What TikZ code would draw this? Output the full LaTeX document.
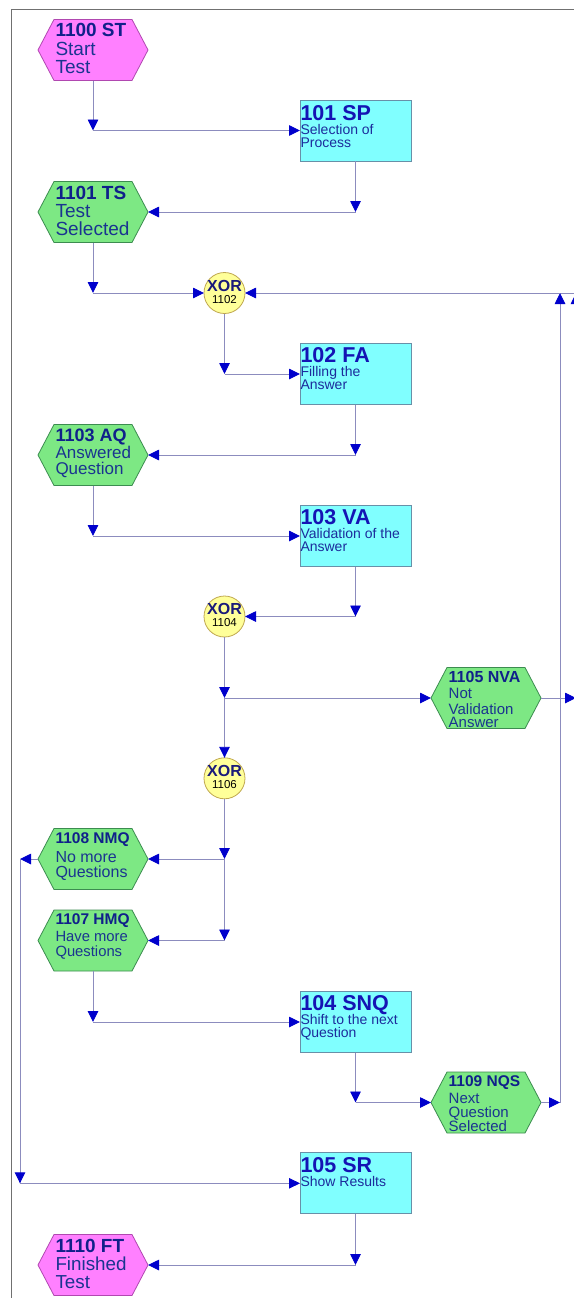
\documentclass[tikz,border=0pt]{standalone}
\usepackage{fontspec}
\setmainfont{Liberation Sans}
\usetikzlibrary{arrows.meta,backgrounds}

\definecolor{magf}{HTML}{FF80FF}
\definecolor{magd}{HTML}{B048B0}
\definecolor{grnf}{HTML}{7DE884}
\definecolor{grnd}{HTML}{3C8C50}
\definecolor{cyaf}{HTML}{80FFFF}
\definecolor{cyad}{HTML}{6890A8}
\definecolor{yelf}{HTML}{FFFF99}
\definecolor{yeld}{HTML}{C0A850}
\definecolor{hext}{HTML}{10208A}
\definecolor{hexb}{HTML}{1A3490}
\definecolor{boxt}{HTML}{1414B4}
\definecolor{boxb}{HTML}{1C2C9C}
\definecolor{xort}{HTML}{1A1A7A}
\definecolor{connc}{HTML}{8C8CBE}
\definecolor{arrc}{HTML}{0000CC}
\definecolor{framec}{HTML}{707070}

\newcommand\HT[1]{\fontsize{#1}{#1}\selectfont\bfseries\color{hext}}
\newcommand\HB[1]{\fontsize{#1}{#1}\selectfont\color{hexb}}
\newcommand\BT{\fontsize{21.5}{21.5}\selectfont\bfseries\color{boxt}}
\newcommand\BB{\fontsize{14}{14}\selectfont\color{boxb}}
\newcommand\blk[1]{\vtop{\lineskiplimit=-100pt\lineskip=0pt #1}}
\newcommand\Ln[2]{\baselineskip=#1pt\relax\hbox{#2}}

\tikzset{
  conn/.style={draw=connc, line width=0.9pt, -{Triangle[length=11pt,width=10.5pt,color=arrc]}},
  seg/.style={draw=connc, line width=0.9pt},
  hexev/.style={minimum width=110pt, minimum height=61pt, inner sep=0pt, outer sep=0pt},
  maghex/.style={fill=magf, draw=magd, line width=0.8pt},
  grnhex/.style={fill=grnf, draw=grnd, line width=0.8pt},
  func/.style={draw=cyad, fill=cyaf, line width=0.8pt, minimum width=111pt, minimum height=61pt, inner sep=0pt, outer sep=0pt},
  xorc/.style={circle, draw=yeld, fill=yelf, minimum size=41pt, inner sep=0pt, outer sep=0pt, line width=0.8pt},
  txt/.style={anchor=base west, inner sep=0pt, outer sep=0pt},
  xtxt/.style={anchor=base, inner sep=0pt, outer sep=0pt},
  framel/.style={draw=framec, line width=1pt},
}

\begin{document}
\begin{tikzpicture}[x=1pt, y=-1pt]
\useasboundingbox (0,0) rectangle (573,1298);

% event hexagon frames (shapes drawn on background)
\node[hexev] (ST)  at (93,50) {};
\node[hexev] (TS)  at (93,212) {};
\node[hexev] (AQ)  at (93,455) {};
\node[hexev] (NVA) at (486,698) {};
\node[hexev] (NMQ) at (93,859) {};
\node[hexev] (HMQ) at (93,940.5) {};
\node[hexev] (NQS) at (486,1102.5) {};
\node[hexev] (FT)  at (93,1265) {};

\begin{scope}[on background layer]
\fill[white] (0,0) rectangle (573,1298);
\draw[framel] (11,1300) -- (11,9.5) -- (575,9.5);
\foreach \n/\s in {ST/maghex, TS/grnhex, AQ/grnhex, NVA/grnhex, NMQ/grnhex, HMQ/grnhex, NQS/grnhex, FT/maghex}
  \draw[\s] (\n.west) -- ([xshift=16pt]\n.north west) -- ([xshift=-16pt]\n.north east)
     -- (\n.east) -- ([xshift=-16pt]\n.south east) -- ([xshift=16pt]\n.south west) -- cycle;
\end{scope}

% functions
\node[func] (SP)  at (355.5,130.5) {};
\node[func] (FA)  at (355.5,374) {};
\node[func] (VA)  at (355.5,536) {};
\node[func] (SNQ) at (355.5,1022) {};
\node[func] (SR)  at (355.5,1183.3) {};

% XOR connectors
\node[xorc] (X1) at (224.5,293) {};
\node[xorc] (X2) at (224.5,616.5) {};
\node[xorc] (X3) at (224.5,778.3) {};

% ---- texts ----
\node[txt] (tST) at (55.5,37) {\blk{\hbox{\HT{19}1100 ST}\Ln{19}{\HB{19}Start}\Ln{17.5}{\HB{19}Test}}};
\node[txt] (tTS) at (55.5,199) {\blk{\hbox{\HT{19}1101 TS}\Ln{18}{\HB{19}Test}\Ln{18.5}{\HB{19}Selected}}};
\node[txt] (tAQ) at (55.5,441.7) {\blk{\hbox{\HT{18}1103 AQ}\Ln{16.6}{\HB{17}Answered}\Ln{16}{\HB{17}Question}}};
\node[txt] (tNVA) at (448.7,682.3) {\blk{\hbox{\HT{16}1105 NVA}\Ln{16}{\HB{15}Not}\Ln{15.7}{\HB{15}Validation}\Ln{13.3}{\HB{15}Answer}}};
\node[txt] (tNMQ) at (55.5,843.3) {\blk{\hbox{\HT{15.5}1108 NMQ}\Ln{19.4}{\HB{16}No more}\Ln{15}{\HB{16}Questions}}};
\node[txt] (tHMQ) at (55.5,924.3) {\blk{\hbox{\HT{15.5}1107 HMQ}\Ln{17.4}{\HB{14.8}Have more}\Ln{14.3}{\HB{14.8}Questions}}};
\node[txt] (tNQS) at (448.7,1086) {\blk{\hbox{\HT{15.5}1109 NQS}\Ln{17.3}{\HB{15}Next}\Ln{14.4}{\HB{15}Question}\Ln{14}{\HB{15}Selected}}};
\node[txt] (tFT) at (55.5,1252.7) {\blk{\hbox{\HT{19}1110 FT}\Ln{18}{\HB{18.8}Finished}\Ln{17.6}{\HB{18.8}Test}}};

\node[txt] (tSP) at (300.5,120.7) {\blk{\hbox{\BT 101 SP}\Ln{13.5}{\BB Selection of}\Ln{13.5}{\BB Process}}};
\node[txt] (tFA) at (300.5,362.7) {\blk{\hbox{\BT 102 FA}\Ln{14}{\BB Filling the}\Ln{12.8}{\BB Answer}}};
\node[txt] (tVA) at (300.5,524.3) {\blk{\hbox{\BT 103 VA}\Ln{14}{\BB Validation of the}\Ln{12.8}{\BB Answer}}};
\node[txt] (tSNQ) at (300.5,1010) {\blk{\hbox{\BT 104 SNQ}\Ln{14}{\BB Shift to the next}\Ln{13.3}{\BB Question}}};
\node[txt] (tSR) at (300.5,1172.7) {\blk{\hbox{\BT 105 SR}\Ln{13.5}{\BB Show Results}}};

\node[xtxt] (x1a) at (224.5,291) {\fontsize{16}{16}\selectfont\bfseries\color{xort}XOR};
\node[xtxt] (x1b) at (224.5,303) {\fontsize{11.5}{11.5}\selectfont 1102};
\node[xtxt] (x2a) at (224.5,614.5) {\fontsize{16}{16}\selectfont\bfseries\color{xort}XOR};
\node[xtxt] (x2b) at (224.5,626.5) {\fontsize{11.5}{11.5}\selectfont 1104};
\node[xtxt] (x3a) at (224.5,776.8) {\fontsize{16}{16}\selectfont\bfseries\color{xort}XOR};
\node[xtxt] (x3b) at (224.5,788.6) {\fontsize{11.5}{11.5}\selectfont 1106};

% ---- connectors ----
\coordinate (k1) at (ST.south |- SP.west);
\draw[conn] (ST.south) -- (k1);
\draw[conn] (k1) -- (SP.west);

\coordinate (k2) at (SP.south |- TS.east);
\draw[conn] (SP.south) -- (k2);
\draw[conn] (k2) -- (TS.east);

\coordinate (k3) at (TS.south |- X1.west);
\draw[conn] (TS.south) -- (k3);
\draw[conn] (k3) -- (X1.west);

\coordinate (k4) at (X1.south |- FA.west);
\draw[conn] (X1.south) -- (k4);
\draw[conn] (k4) -- (FA.west);

\coordinate (k5) at (FA.south |- AQ.east);
\draw[conn] (FA.south) -- (k5);
\draw[conn] (k5) -- (AQ.east);

\coordinate (k6) at (AQ.south |- VA.west);
\draw[conn] (AQ.south) -- (k6);
\draw[conn] (k6) -- (VA.west);

\coordinate (k7) at (VA.south |- X2.east);
\draw[conn] (VA.south) -- (k7);
\draw[conn] (k7) -- (X2.east);

\coordinate (k8) at (X2.south |- NVA.west);
\draw[conn] (k8) -- (X3.north);
\draw[conn] (X2.south) -- (k8);
\draw[conn] (k8) -- (NVA.west);

\coordinate (k9) at (X3.south |- NMQ.east);
\coordinate (k10) at (X3.south |- HMQ.east);
\draw[conn] (k9) -- (k10);
\draw[conn] (X3.south) -- (k9);
\draw[conn] (k9) -- (NMQ.east);
\draw[conn] (k10) -- (HMQ.east);

\coordinate (k11) at (20,859);
\coordinate (k12) at (k11 |- SR.west);
\draw[conn] (NMQ.west) -- (k11);
\draw[conn] (k11) -- (k12);
\draw[conn] (k12) -- (SR.west);

\coordinate (k13) at (HMQ.south |- SNQ.west);
\draw[conn] (HMQ.south) -- (k13);
\draw[conn] (k13) -- (SNQ.west);

\coordinate (k14) at (SNQ.south |- NQS.west);
\draw[conn] (SNQ.south) -- (k14);
\draw[conn] (k14) -- (NQS.west);

\coordinate (k15) at (560,1102.5);
\coordinate (k16) at (k15 |- X1.east);
\coordinate (k17) at (576,698);
\coordinate (k18) at (k17 |- X1.east);
\draw[conn] (NVA.east) -- (k17);
\draw[conn] (k17) -- (k18);
\draw[seg] (k18) -- (k16);
\draw[conn] (NQS.east) -- (k15);
\draw[conn] (k15) -- (k16);
\draw[conn] (k16) -- (X1.east);

\coordinate (k19) at (SR.south |- FT.east);
\draw[conn] (SR.south) -- (k19);
\draw[conn] (k19) -- (FT.east);
\end{tikzpicture}
\end{document}
